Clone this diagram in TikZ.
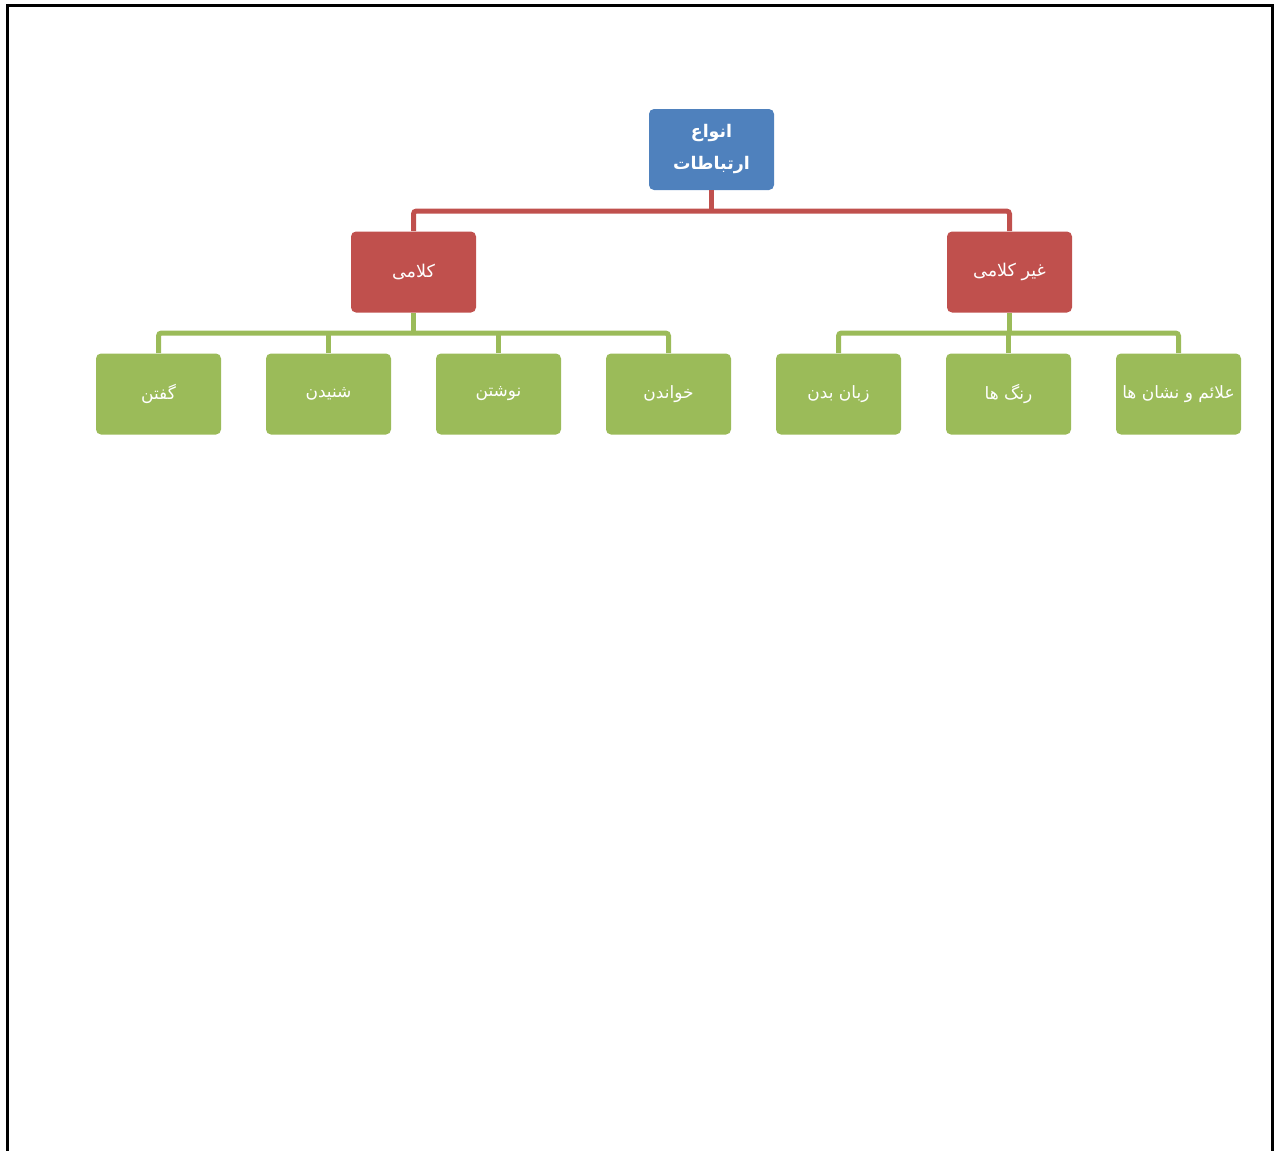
\documentclass[tikz,border=0pt]{standalone}
\usepackage{fontspec}
\newfontfamily\arabicfont[Script=Arabic]{DejaVu Sans}
\TeXXeTstate=1
\definecolor{rootblue}{HTML}{4F81BD}
\definecolor{midred}{HTML}{C0504D}
\definecolor{leafgreen}{HTML}{9BBB59}
\begin{document}
\begin{tikzpicture}[x=0.5pt,y=-0.5pt,
  boxbase/.style={rectangle, rounded corners=2.5pt, inner sep=0pt,
    minimum width=62.5pt, minimum height=40.5pt, text=white,
    font=\arabicfont\fontsize{8.5}{12}\selectfont, align=center},
  rootbox/.style={boxbase, fill=rootblue, minimum height=40.5pt,
    font=\arabicfont\bfseries\fontsize{8.7}{16}\selectfont},
  midbox/.style={boxbase, fill=midred, font=\arabicfont\fontsize{8.8}{12}\selectfont},
  leafbox/.style={boxbase, fill=leafgreen},
  redline/.style={draw=midred, line width=2.5pt, rounded corners=1.5pt},
  greenline/.style={draw=leafgreen, line width=2.5pt, rounded corners=1.5pt},
  frameline/.style={draw=black, line width=1.5pt}]
\useasboundingbox (0,0) rectangle (1276,1151);
\draw[frameline] (7,1151) -- (7,5) -- (1272,5) -- (1272,1151);

\node[rootbox] (root) at (711.5,149.5) {\beginR انواع\endR\\\beginR ارتباطات\endR};
\node[midbox] (kal) at (413.5,272) {\beginR کلامی\endR};
\node[midbox] (gkal) at (1009.5,272) {\beginR غیر کلامی\endR};

\node[leafbox] (l1) at (158.5,394) {\beginR گفتن\endR};
\node[leafbox] (l2) at (328.5,394) {\beginR شنیدن\endR};
\node[leafbox] (l3) at (498.5,394) {\beginR نوشتن\endR};
\node[leafbox] (l4) at (668.5,394) {\beginR خواندن\endR};
\node[leafbox] (r1) at (838.5,394) {\beginR زبان بدن\endR};
\node[leafbox] (r2) at (1008.5,394) {\beginR رنگ ها\endR};
\node[leafbox] (r3) at (1178.5,394) {\beginR علائم و نشان ها\endR};

\coordinate (rj) at (711.5,211);
\coordinate (kj) at (413.5,333);
\coordinate (gj) at (1009.5,333);

% red level
\draw[redline] (kal.north) |- (gkal.north |- rj) -- (gkal.north);
\draw[redline, rounded corners=0pt] (root.south) -- (rj);

% green levels
\draw[greenline] (l1.north) |- (l4.north |- kj) -- (l4.north);
\draw[greenline, rounded corners=0pt] (kal.south) -- (kj);
\draw[greenline, rounded corners=0pt] (l2.north) -- (l2.north |- kj);
\draw[greenline, rounded corners=0pt] (l3.north) -- (l3.north |- kj);

\draw[greenline] (r1.north) |- (r3.north |- gj) -- (r3.north);
\draw[greenline, rounded corners=0pt] (gkal.south) -- (gj);
\draw[greenline, rounded corners=0pt] (r2.north) -- (r2.north |- gj);
\end{tikzpicture}
\end{document}
